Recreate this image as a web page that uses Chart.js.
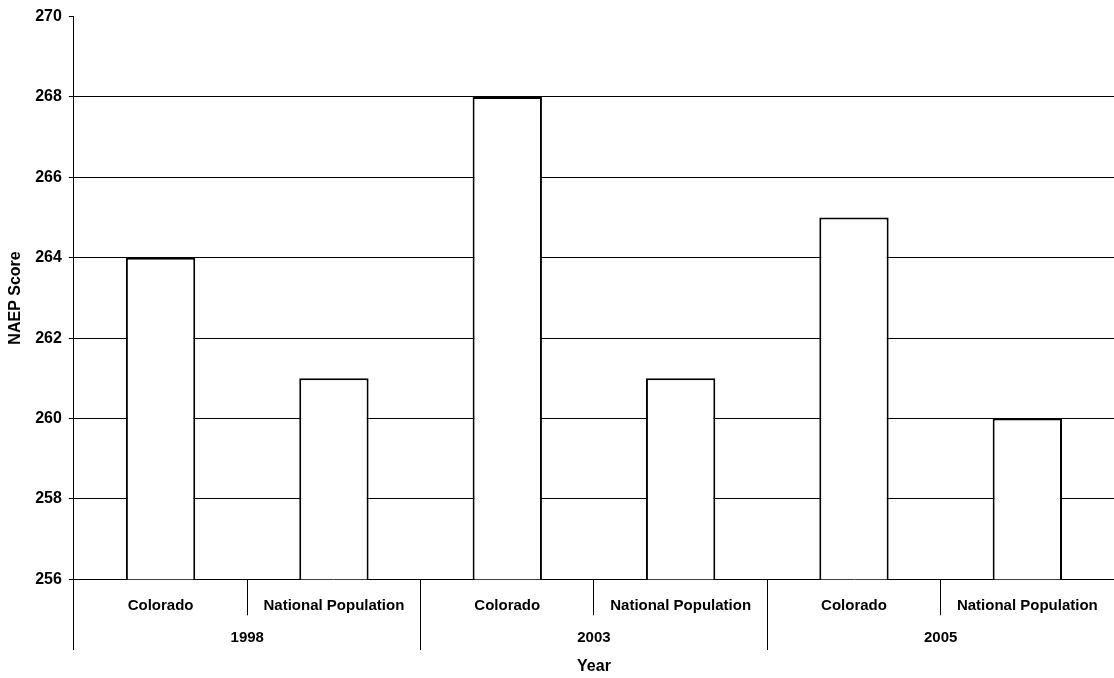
<!DOCTYPE html>
<html>
<head>
<meta charset="utf-8">
<script src="https://cdn.jsdelivr.net/npm/chart.js@4"></script>
<style>
  html, body { margin: 0; padding: 0; background: #fff; }
  #wrap { width: 1114px; height: 678px; position: relative; }
</style>
</head>
<body>
<div id="wrap"><canvas id="naepChart"></canvas></div>
<script>
const years = ["1998", "2003", "2005"];
const groups = ["Colorado", "National Population"];
const coloradoScores = [264, 268, 265];
const nationalScores = [261, 261, 260];
const scoreMin = 256;
const scoreMax = 270;
const scoreStep = 2;

const labels = years.flatMap(() => groups);
const values = years.flatMap((y, i) => [coloradoScores[i], nationalScores[i]]);

const FONT = "'Liberation Sans', Arial, sans-serif";

// same pixel snapping as chart.js uses for 1px grid lines
const snap = (p) => Math.round(p - 0.5) + 0.5;

// year row under the group labels, with the long separators
const yearRow = {
    id: "yearRow",
    afterDraw(chart) {
        const ctx = chart.ctx;
        const x = chart.scales.x;
        const bottom = chart.chartArea.bottom;
        ctx.save();
        ctx.strokeStyle = "#000";
        ctx.lineWidth = 1;
        ctx.fillStyle = "#000";
        ctx.font = "bold 15px " + FONT;
        ctx.textAlign = "center";
        ctx.textBaseline = "middle";
        years.forEach((yr, i) => {
            const a = x.getPixelForTick(i * groups.length);
            const b = x.getPixelForTick(i * groups.length + 1);
            const left = snap(a - (b - a) / 2);
            ctx.beginPath();
            ctx.moveTo(left, bottom);
            ctx.lineTo(left, 650);
            ctx.stroke();
            ctx.fillText(yr, (a + b) / 2, 638);
        });
        ctx.restore();
    }
};

new Chart(document.getElementById("naepChart"), {
    type: "bar",
    data: {
        labels: labels,
        datasets: [{
            data: values,
            backgroundColor: "#fff",
            borderColor: "#000",
            borderWidth: 2,
            borderSkipped: false,
            barPercentage: 0.4,
            categoryPercentage: 1
        }]
    },
    options: {
        responsive: true,
        maintainAspectRatio: false,
        animation: false,
        layout: { padding: { top: 16, right: 0, left: 0, bottom: 0 } },
        plugins: {
            legend: { display: false },
            tooltip: { enabled: false }
        },
        scales: {
            x: {
                grid: {
                    offset: true,
                    drawOnChartArea: false,
                    tickLength: 36,
                    color: (c) => c.type === "scale" ? "rgba(0,0,0,0)" : "#000",
                    lineWidth: 1
                },
                border: { display: true, color: "#000", width: 1 },
                ticks: {
                    color: "#000",
                    font: { family: FONT, size: 15, weight: "bold" },
                    padding: -18,
                    maxRotation: 0,
                    autoSkip: false
                },
                title: {
                    display: true,
                    text: "Year",
                    color: "#000",
                    font: { family: FONT, size: 16, weight: "bold" },
                    padding: { top: 60, bottom: 1.5 }
                }
            },
            y: {
                min: scoreMin,
                max: scoreMax,
                ticks: {
                    stepSize: scoreStep,
                    color: "#000",
                    font: { family: FONT, size: 16, weight: "bold" },
                    padding: 7
                },
                grid: {
                    color: (c) => (c.tick && (c.tick.value === scoreMax || c.tick.value === scoreMin)) ? "rgba(0,0,0,0)" : "#000",
                    tickColor: "#000",
                    tickLength: 5,
                    lineWidth: 1
                },
                border: { display: true, color: "#000", width: 1 },
                title: {
                    display: true,
                    text: "NAEP Score",
                    color: "#000",
                    font: { family: FONT, size: 16, weight: "bold" },
                    padding: { top: 5.5, bottom: 3.5 }
                }
            }
        }
    },
    plugins: [yearRow]
});
</script>
</body>
</html>
